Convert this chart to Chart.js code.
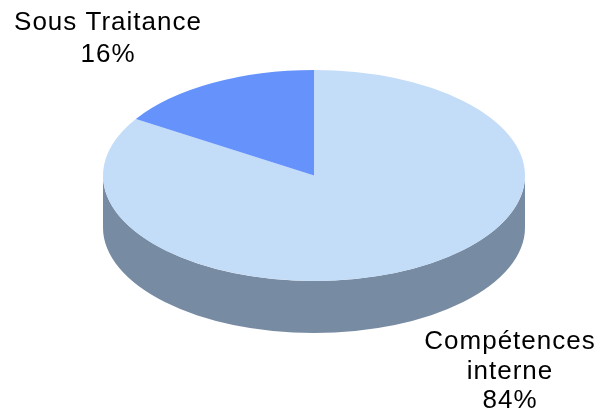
<!DOCTYPE html>
<html>
<head>
<meta charset="utf-8">
<script src="https://cdn.jsdelivr.net/npm/chart.js@4/dist/chart.umd.min.js"></script>
<style>
html,body{margin:0;padding:0;background:#fff;}
#wrap{width:606px;height:413px;}
</style>
</head>
<body>
<div id="wrap"><canvas id="c" width="606" height="413"></canvas></div>
<script>
const categories = ["Compétences interne", "Sous Traitance"];
const values = [84, 16];
const labelLines = [["Compétences", "interne", "84%"], ["Sous Traitance", "16%"]];
const topColors = ["#c3dcf8", "#6693fb"];
const sideColor = "#778ba2";

// screen geometry of the tilted pie
const CX = 314, CY = 175.5, RX = 211, RY = 105.5, DEPTH = 52;

const pie3d = {
  id: 'pie3d',
  beforeDatasetsDraw(chart) {
    const ctx = chart.ctx;
    const arcs = chart.getDatasetMeta(0).data;
    if (!arcs.length) return;
    const a = arcs[0];
    const R = a.outerRadius;
    ctx.save();
    arcs.forEach((el) => {
      const s = el.startAngle, e = el.endAngle;
      const segs = [];
      for (let k = -1; k <= 1; k++) {
        const off = k * 2 * Math.PI;
        const s2 = Math.max(s + off, 0), e2 = Math.min(e + off, Math.PI);
        if (e2 > s2) segs.push([s2, e2]);
      }
      segs.forEach(([s2, e2]) => {
        ctx.beginPath();
        ctx.ellipse(CX, CY, RX, RY, 0, s2, e2, false);
        ctx.lineTo(CX + RX * Math.cos(e2), CY + DEPTH + RY * Math.sin(e2));
        ctx.ellipse(CX, CY + DEPTH, RX, RY, 0, e2, s2, true);
        ctx.closePath();
        ctx.fillStyle = sideColor;
        ctx.fill();
      });
    });
    ctx.restore();
    ctx.save();
    ctx.translate(CX, CY);
    ctx.scale(RX / R, RY / R);
    ctx.translate(-a.x, -a.y);
  },
  afterDatasetsDraw(chart) {
    chart.ctx.restore();
    const ctx = chart.ctx;
    ctx.save();
    ctx.fillStyle = '#000';
    ctx.font = '26px "Liberation Sans", Arial, sans-serif';
    ctx.letterSpacing = '1px';
    ctx.textAlign = 'center';
    ctx.textBaseline = 'alphabetic';
    const pos = [[510, 349, 29.5], [108, 30, 32]];
    labelLines.forEach((lines, i) => {
      lines.forEach((t, j) => ctx.fillText(t, pos[i][0], pos[i][1] + j * pos[i][2]));
    });
    ctx.restore();
  }
};

new Chart(document.getElementById('c'), {
  type: 'pie',
  data: {
    labels: categories,
    datasets: [{
      data: values,
      backgroundColor: topColors,
      borderWidth: 0
    }]
  },
  options: {
    responsive: false,
    animation: false,
    plugins: { legend: { display: false }, tooltip: { enabled: false } }
  },
  plugins: [pie3d]
});
</script>
</body>
</html>
